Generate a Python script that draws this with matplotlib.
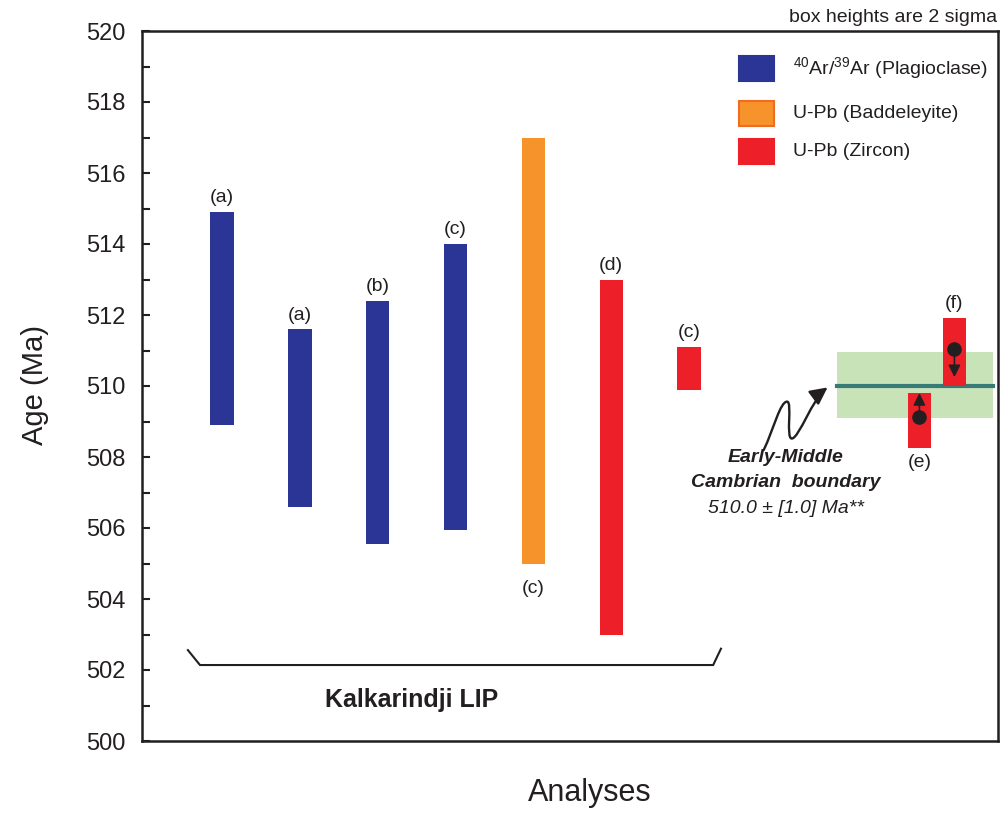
import numpy as np
import matplotlib
matplotlib.use('Agg')
import matplotlib.pyplot as plt
from matplotlib.patches import Rectangle, FancyArrowPatch
from matplotlib.path import Path

plt.rcParams['font.family'] = 'Liberation Sans'
plt.rcParams['mathtext.fontset'] = 'custom'
plt.rcParams['mathtext.rm'] = 'Liberation Sans'
plt.rcParams['mathtext.it'] = 'Liberation Sans:italic'

INK = '#231F20'
BLUE = '#2B3595'
ORANGE = '#F6932A'
RED = '#ED1F29'

# Kalkarindji LIP ages (Ma), 2 sigma boxes
lip_pos = [1.03, 2.03, 3.03, 4.03, 5.03, 6.03, 7.03]
lip_low = [508.9, 506.6, 505.55, 505.95, 505.0, 503.0, 509.9]
lip_high = [514.9, 511.6, 512.4, 514.0, 517.0, 513.0, 511.1]
lip_kind = ['ar', 'ar', 'ar', 'ar', 'bd', 'zr', 'zr']
lip_ref = ['(a)', '(a)', '(b)', '(c)', '(c)', '(d)', '(c)']
lip_ref_below = [False, False, False, False, True, False, False]

# Early-Middle Cambrian boundary and the two bracketing zircon ages
boundary_age = 510.0
boundary_err = 1.0
boundary_x = (8.93, 10.94)
brk_pos = [9.99, 10.44]
brk_low = [508.25, 510.0]
brk_high = [509.8, 511.92]
brk_ref = ['(e)', '(f)']
brk_dot = [509.14, 511.04]
brk_tip = [509.8, 510.25]

colors = {'ar': BLUE, 'bd': ORANGE, 'zr': RED}
bar_w = 0.3

fig = plt.figure(figsize=(10.02, 8.16), dpi=100)
ax = fig.add_axes([142 / 1002, 75 / 816, 856 / 1002, 710 / 816])
ax.set_xlim(0, 11)
ax.set_ylim(500, 520)

# age boxes
for x, lo, hi, k in zip(lip_pos, lip_low, lip_high, lip_kind):
    ax.bar(x, hi - lo, bottom=lo, width=bar_w, color=colors[k], zorder=3)
for x, lo, hi, ref, below in zip(lip_pos, lip_low, lip_high, lip_ref, lip_ref_below):
    if below:
        ax.annotate(ref, (x, lo), xytext=(0, -12), textcoords='offset points',
                    ha='center', va='top', fontsize=14, color=INK)
    else:
        ax.annotate(ref, (x, hi), xytext=(0, 4), textcoords='offset points',
                    ha='center', va='bottom', fontsize=14, color=INK)

# boundary band
ax.fill_between(boundary_x, boundary_age - boundary_err * 0.9, boundary_age + boundary_err * 0.96,
                color='#C9E3B9', zorder=1, lw=0)
ax.plot(boundary_x, [boundary_age, boundary_age], color='#377A76', lw=3, zorder=2)

for x, lo, hi in zip(brk_pos, brk_low, brk_high):
    ax.bar(x, hi - lo, bottom=lo, width=bar_w, color=RED, zorder=3)
ax.annotate(brk_ref[0], (brk_pos[0], brk_low[0]), xytext=(0, -4), textcoords='offset points',
            ha='center', va='top', fontsize=14, color=INK)
ax.annotate(brk_ref[1], (brk_pos[1], brk_high[1]), xytext=(0, 4), textcoords='offset points',
            ha='center', va='bottom', fontsize=14, color=INK)
for x, d, t in zip(brk_pos, brk_dot, brk_tip):
    ax.annotate('', xy=(x, t), xytext=(x, d),
                arrowprops=dict(arrowstyle='-|>', color=INK, lw=1.2, mutation_scale=18,
                                shrinkA=0, shrinkB=0), zorder=5)
    ax.plot(x, d, 'o', color=INK, ms=9.5, zorder=6)

# squiggle arrow pointing at the boundary
verts = [(7.99, 508.20),
         (8.12, 508.80), (8.20, 509.56), (8.29, 509.56),
         (8.36, 509.56), (8.27, 508.52), (8.35, 508.52),
         (8.44, 508.52), (8.62, 509.65), (8.81, 509.96)]
codes = [Path.MOVETO] + [Path.CURVE4] * 9
squig = FancyArrowPatch(path=Path(verts, codes), arrowstyle='-|>', mutation_scale=26,
                        color=INK, lw=1.7, zorder=5)
ax.add_patch(squig)
ax.text(8.27, 508.0, 'Early-Middle', ha='center', va='center', fontsize=14,
        fontweight='bold', style='italic', color=INK)
ax.text(8.27, 507.28, 'Cambrian  boundary', ha='center', va='center', fontsize=14,
        fontweight='bold', style='italic', color=INK)
ax.text(8.27, 506.55, '510.0 ± [1.0] Ma**', ha='center', va='center', fontsize=14,
        style='italic', color=INK)

# bracket under the LIP analyses
ax.plot([0.59, 0.745, 7.34, 7.44], [502.56, 502.14, 502.14, 502.6], color=INK, lw=1.5,
        solid_joinstyle='miter')
ax.text(3.46, 501.15, 'Kalkarindji LIP', ha='center', va='center', fontsize=18,
        fontweight='bold', color=INK)

# legend
leg = [(BLUE, BLUE, r'$^{40}$Ar/$^{39}$Ar (Plagioclase)', 68.5),
       (ORANGE, '#F26B22', 'U-Pb (Baddeleyite)', 113),
       (RED, RED, 'U-Pb (Zircon)', 151)]
for fc, ec, lab, py in leg:
    yf = (741 - py) / 710
    ax.add_patch(Rectangle(((739 - 142) / 856, yf - 12.5 / 710), 35 / 856, 25 / 710,
                           transform=ax.transAxes, facecolor=fc, edgecolor=ec, lw=1.5,
                           clip_on=False, zorder=4))
    ax.text((793 - 142) / 856, yf, lab, transform=ax.transAxes, ha='left', va='center',
            fontsize=14, color=INK)

fig.text(997 / 1002, 1 - 17 / 816, 'box heights are 2 sigma', ha='right', va='center',
         fontsize=14, color=INK)

# axes styling
ax.set_yticks(np.arange(500, 521, 2))
ax.set_yticks(np.arange(501, 520, 2), minor=True)
ax.set_xticks([])
ax.tick_params(axis='y', which='both', direction='in', length=6, width=1.5, color=INK,
               labelsize=17, labelcolor=INK, pad=12)
for s in ax.spines.values():
    s.set_linewidth(1.8)
    s.set_color(INK)

fig.text(35 / 1002, 1 - 385 / 816, 'Age (Ma)', rotation=90, ha='center', va='center',
         fontsize=21, color=INK)
fig.text(590 / 1002, 1 - 793 / 816, 'Analyses', ha='center', va='center',
         fontsize=22, color=INK)

fig.savefig('out.png', dpi=100)
